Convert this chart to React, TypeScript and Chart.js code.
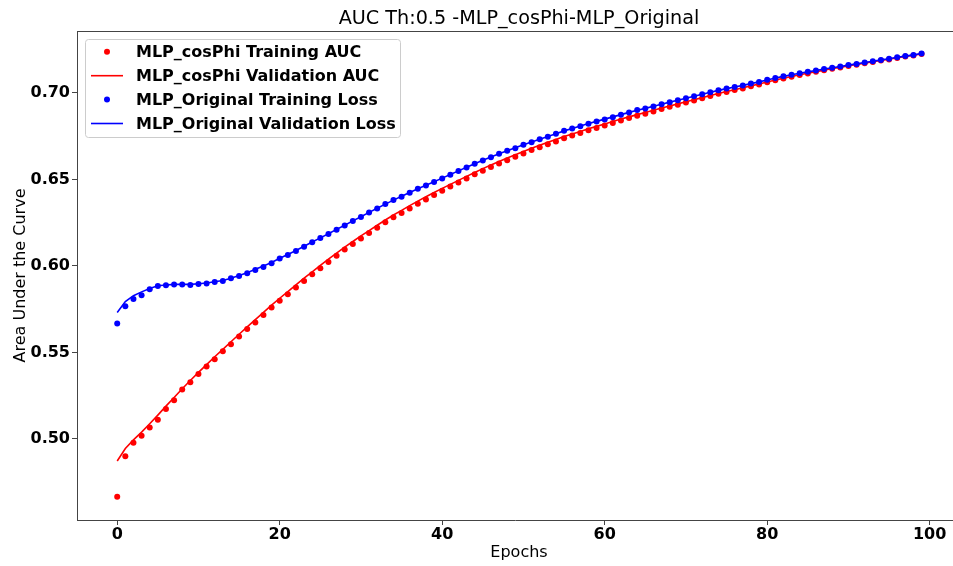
import React, { useEffect, useRef } from "react";
import { Chart, registerables } from "chart.js";

Chart.register(...registerables);

const EPOCHS: number[] = Array.from({ length: 100 }, (_, i) => i);

const COSPHI_TRAIN: number[] = [
  0.4666, 0.4900, 0.4978, 0.5018, 0.5067, 0.5111, 0.5173, 0.5224, 0.5286, 0.5328,
  0.5375, 0.5419, 0.5461, 0.5507, 0.5548, 0.5592, 0.5635, 0.5673, 0.5717, 0.5759,
  0.5798, 0.5836, 0.5875, 0.5913, 0.5952, 0.5986, 0.6023, 0.6059, 0.6094, 0.6126,
  0.6158, 0.6190, 0.6221, 0.6252, 0.6281, 0.6305, 0.6332, 0.6359, 0.6384, 0.6409,
  0.6434, 0.6458, 0.6482, 0.6505, 0.6529, 0.6550, 0.6571, 0.6592, 0.6611, 0.6631,
  0.6650, 0.6669, 0.6686, 0.6703, 0.6719, 0.6738, 0.6753, 0.6768, 0.6783, 0.6797,
  0.6811, 0.6825, 0.6840, 0.6854, 0.6868, 0.6879, 0.6892, 0.6906, 0.6919, 0.6931,
  0.6944, 0.6956, 0.6969, 0.6981, 0.6994, 0.7005, 0.7016, 0.7025, 0.7038, 0.7048,
  0.7061, 0.7072, 0.7083, 0.7093, 0.7103, 0.7112, 0.7121, 0.7130, 0.7139, 0.7146,
  0.7155, 0.7162, 0.7170, 0.7178, 0.7186, 0.7193, 0.7201, 0.7209, 0.7216, 0.7224,
];

const COSPHI_VAL: number[] = [
  0.4873, 0.4945, 0.4995, 0.5040, 0.5088, 0.5138, 0.5190, 0.5240, 0.5290, 0.5338,
  0.5385, 0.5430, 0.5475, 0.5518, 0.5562, 0.5605, 0.5648, 0.5690, 0.5732, 0.5773,
  0.5813, 0.5852, 0.5891, 0.5929, 0.5966, 0.6003, 0.6039, 0.6074, 0.6108, 0.6141,
  0.6173, 0.6204, 0.6235, 0.6265, 0.6294, 0.6321, 0.6348, 0.6374, 0.6399, 0.6424,
  0.6448, 0.6471, 0.6494, 0.6517, 0.6540, 0.6562, 0.6583, 0.6603, 0.6623, 0.6642,
  0.6661, 0.6679, 0.6697, 0.6714, 0.6730, 0.6747, 0.6762, 0.6777, 0.6792, 0.6806,
  0.6820, 0.6834, 0.6848, 0.6861, 0.6874, 0.6886, 0.6899, 0.6912, 0.6924, 0.6936,
  0.6948, 0.6960, 0.6972, 0.6984, 0.6996, 0.7007, 0.7018, 0.7029, 0.7040, 0.7051,
  0.7062, 0.7074, 0.7084, 0.7094, 0.7104, 0.7113, 0.7122, 0.7131, 0.7140, 0.7147,
  0.7156, 0.7163, 0.7171, 0.7179, 0.7187, 0.7194, 0.7202, 0.7210, 0.7217, 0.7225,
];

const ORIGINAL_TRAIN: number[] = [
  0.5667, 0.5767, 0.5809, 0.5830, 0.5865, 0.5884, 0.5888, 0.5892, 0.5892, 0.5890,
  0.5896, 0.5898, 0.5907, 0.5913, 0.5928, 0.5942, 0.5957, 0.5976, 0.5994, 0.6015,
  0.6042, 0.6063, 0.6086, 0.6111, 0.6136, 0.6161, 0.6184, 0.6209, 0.6233, 0.6259,
  0.6282, 0.6308, 0.6332, 0.6357, 0.6380, 0.6400, 0.6423, 0.6446, 0.6465, 0.6484,
  0.6505, 0.6527, 0.6548, 0.6569, 0.6590, 0.6609, 0.6628, 0.6648, 0.6665, 0.6680,
  0.6700, 0.6715, 0.6731, 0.6746, 0.6763, 0.6781, 0.6794, 0.6807, 0.6821, 0.6834,
  0.6846, 0.6859, 0.6873, 0.6886, 0.6900, 0.6909, 0.6921, 0.6934, 0.6946, 0.6957,
  0.6969, 0.6980, 0.6992, 0.7003, 0.7015, 0.7025, 0.7034, 0.7042, 0.7054, 0.7063,
  0.7075, 0.7085, 0.7095, 0.7104, 0.7113, 0.7121, 0.7129, 0.7137, 0.7145, 0.7152,
  0.7160, 0.7167, 0.7175, 0.7182, 0.7190, 0.7197, 0.7205, 0.7212, 0.7219, 0.7227,
];

const ORIGINAL_VAL: number[] = [
  0.5731, 0.5794, 0.5828, 0.5850, 0.5870, 0.5885, 0.5890, 0.5893, 0.5893, 0.5893,
  0.5897, 0.5901, 0.5908, 0.5916, 0.5929, 0.5945, 0.5961, 0.5980, 0.5999, 0.6020,
  0.6044, 0.6066, 0.6089, 0.6113, 0.6138, 0.6162, 0.6186, 0.6211, 0.6235, 0.6260,
  0.6284, 0.6309, 0.6333, 0.6357, 0.6380, 0.6402, 0.6424, 0.6446, 0.6466, 0.6486,
  0.6507, 0.6528, 0.6549, 0.6570, 0.6590, 0.6610, 0.6629, 0.6648, 0.6665, 0.6682,
  0.6700, 0.6716, 0.6732, 0.6748, 0.6764, 0.6780, 0.6794, 0.6808, 0.6822, 0.6835,
  0.6848, 0.6861, 0.6874, 0.6887, 0.6899, 0.6910, 0.6922, 0.6934, 0.6946, 0.6957,
  0.6969, 0.6980, 0.6992, 0.7003, 0.7014, 0.7024, 0.7034, 0.7043, 0.7053, 0.7063,
  0.7074, 0.7085, 0.7095, 0.7104, 0.7113, 0.7121, 0.7129, 0.7137, 0.7145, 0.7152,
  0.7160, 0.7167, 0.7175, 0.7182, 0.7190, 0.7197, 0.7205, 0.7212, 0.7219, 0.7227,
];

const X_TICKS: number[] = [0, 20, 40, 60, 80, 100];
const Y_TICKS: number[] = [0.5, 0.55, 0.6, 0.65, 0.7];

const TITLE = "AUC Th:0.5 -MLP_cosPhi-MLP_Original";
const X_LABEL = "Epochs";
const Y_LABEL = "Area Under the Curve";
const LEGEND_LABELS: string[] = [
  "MLP_cosPhi Training AUC",
  "MLP_cosPhi Validation AUC",
  "MLP_Original Training Loss",
  "MLP_Original Validation Loss",
];

const RED = "#ff0000";
const BLUE = "#0000ff";
const FONT = "'DejaVu Sans', sans-serif";

export default function App() {
  const ref = useRef<HTMLCanvasElement>(null);

  useEffect(() => {
    const canvas = ref.current;
    if (!canvas) return;
    const toXY = (arr: number[]) => arr.map((y, i) => ({ x: EPOCHS[i], y }));

    const decor = {
      id: "decor",
      afterDraw(chart: any) {
        const { ctx, chartArea: ca } = chart;
        ctx.save();
        // top spine
        ctx.strokeStyle = "#444";
        ctx.lineWidth = 1;
        ctx.beginPath();
        ctx.moveTo(ca.left, ca.top + 0.5);
        ctx.lineTo(chart.width, ca.top + 0.5);
        ctx.stroke();

        const cx = 519;
        const cy = (ca.top + ca.bottom) / 2;
        ctx.fillStyle = "#000";
        // title
        ctx.font = `normal 19.2px ${FONT}`;
        ctx.textAlign = "center";
        ctx.textBaseline = "alphabetic";
        ctx.fillText(TITLE, cx, 24);
        // x label
        ctx.font = `normal 16px ${FONT}`;
        ctx.fillText(X_LABEL, cx, 556.5);
        // y label
        ctx.save();
        ctx.translate(25, cy);
        ctx.rotate(-Math.PI / 2);
        ctx.fillText(Y_LABEL, 0, 0);
        ctx.restore();

        // legend
        const lx = 85.5, ly = 39.5, lw = 315, lh = 98, r = 3;
        ctx.beginPath();
        ctx.moveTo(lx + r, ly);
        ctx.lineTo(lx + lw - r, ly);
        ctx.arcTo(lx + lw, ly, lx + lw, ly + r, r);
        ctx.lineTo(lx + lw, ly + lh - r);
        ctx.arcTo(lx + lw, ly + lh, lx + lw - r, ly + lh, r);
        ctx.lineTo(lx + r, ly + lh);
        ctx.arcTo(lx, ly + lh, lx, ly + lh - r, r);
        ctx.lineTo(lx, ly + r);
        ctx.arcTo(lx, ly, lx + r, ly, r);
        ctx.closePath();
        ctx.fillStyle = "rgba(255,255,255,0.8)";
        ctx.fill();
        ctx.strokeStyle = "#cccccc";
        ctx.lineWidth = 1;
        ctx.stroke();

        const colors = [RED, RED, BLUE, BLUE];
        const isDot = [true, false, true, false];
        ctx.font = `bold 16px ${FONT}`;
        ctx.textAlign = "left";
        LEGEND_LABELS.forEach((label, i) => {
          const y = 51.8 + i * 23.9;
          if (isDot[i]) {
            ctx.fillStyle = colors[i];
            ctx.beginPath();
            ctx.arc(107, y, 3, 0, Math.PI * 2);
            ctx.fill();
          } else {
            ctx.strokeStyle = colors[i];
            ctx.lineWidth = 1.6;
            ctx.beginPath();
            ctx.moveTo(91, y);
            ctx.lineTo(123, y);
            ctx.stroke();
          }
          ctx.fillStyle = "#000";
          ctx.fillText(label, 136, y + 5.5);
        });
        ctx.restore();
      },
    };

    const tickFont = { family: FONT, size: 16, weight: "bold" as const };

    const chart = new Chart(canvas, {
      type: "line",
      data: {
        datasets: [
          {
            label: LEGEND_LABELS[0],
            data: toXY(COSPHI_TRAIN),
            showLine: false,
            pointRadius: 3,
            pointBorderWidth: 0,
            pointBackgroundColor: RED,
            borderColor: RED,
            backgroundColor: RED,
            order: 4,
          },
          {
            label: LEGEND_LABELS[1],
            data: toXY(COSPHI_VAL),
            pointRadius: 0,
            borderColor: RED,
            borderWidth: 1.6,
            tension: 0,
            fill: false,
            order: 3,
          },
          {
            label: LEGEND_LABELS[2],
            data: toXY(ORIGINAL_TRAIN),
            showLine: false,
            pointRadius: 3,
            pointBorderWidth: 0,
            pointBackgroundColor: BLUE,
            borderColor: BLUE,
            backgroundColor: BLUE,
            order: 2,
          },
          {
            label: LEGEND_LABELS[3],
            data: toXY(ORIGINAL_VAL),
            pointRadius: 0,
            borderColor: BLUE,
            borderWidth: 1.6,
            tension: 0,
            fill: false,
            order: 1,
          },
        ],
      },
      options: {
        animation: false,
        responsive: false,
        devicePixelRatio: 1,
        events: [],
        layout: { autoPadding: false, padding: { top: 31, left: 0, right: 0, bottom: 0 } },
        plugins: {
          legend: { display: false },
          tooltip: { enabled: false },
          title: { display: false },
        },
        scales: {
          x: {
            type: "linear",
            min: -4.95,
            max: 102.87,
            afterFit: (s: any) => {
              s.height = 46;
            },
            afterBuildTicks: (s: any) => {
              s.ticks = X_TICKS.map((v) => ({ value: v }));
            },
            grid: { drawOnChartArea: false, drawTicks: true, tickLength: 5, color: "#444" },
            border: { color: "#444", width: 1 },
            ticks: {
              font: tickFont,
              color: "#000",
              padding: 0,
              maxRotation: 0,
              autoSkip: false,
              callback: (v: any) => String(v),
            },
          },
          y: {
            type: "linear",
            min: 0.4532,
            max: 0.7357,
            afterFit: (s: any) => {
              s.width = 77;
            },
            afterBuildTicks: (s: any) => {
              s.ticks = Y_TICKS.map((v) => ({ value: v }));
            },
            grid: { drawOnChartArea: false, drawTicks: true, tickLength: 5, color: "#444" },
            border: { color: "#444", width: 1 },
            ticks: {
              font: tickFont,
              color: "#000",
              padding: 2,
              autoSkip: false,
              callback: (v: any) => Number(v).toFixed(2),
            },
          },
        },
      },
      plugins: [decor],
    });

    return () => chart.destroy();
  }, []);

  return (
    <div
      style={{
        position: "fixed",
        left: 0,
        top: 0,
        width: 953,
        height: 566,
        overflow: "hidden",
        background: "#fff",
      }}
    >
      <canvas
        ref={ref}
        width={953}
        height={566}
        style={{ display: "block", width: 953, height: 566 }}
      />
    </div>
  );
}
